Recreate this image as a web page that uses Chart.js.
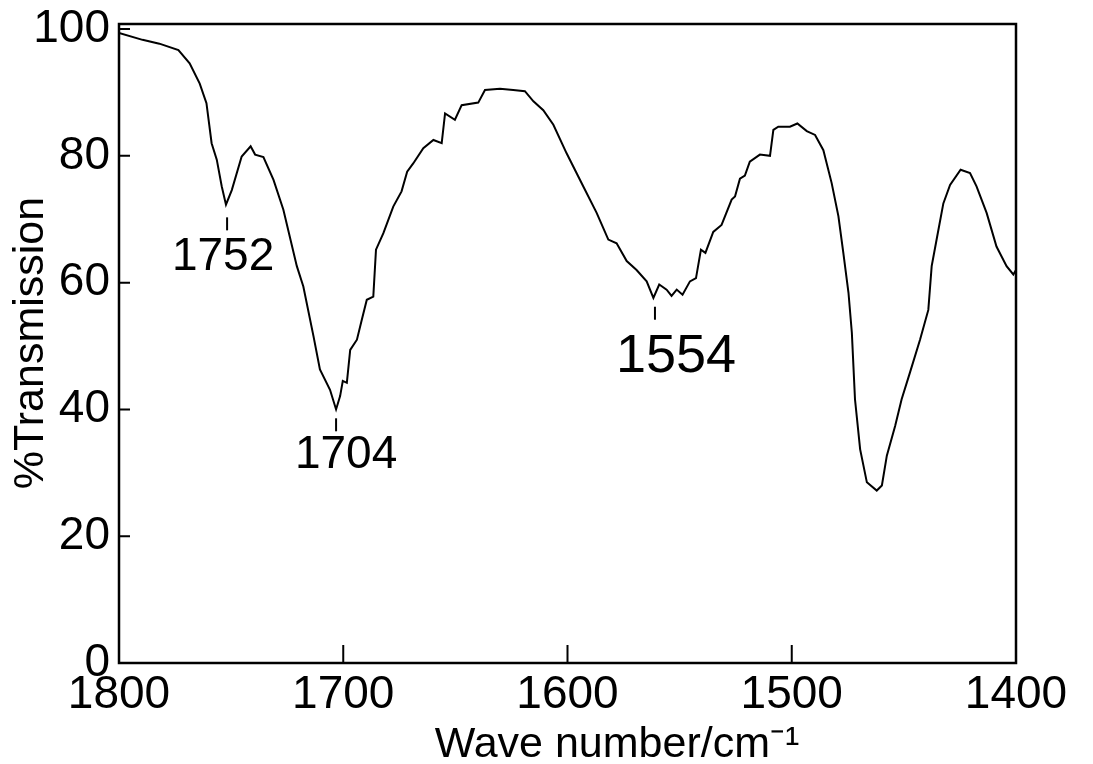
<!DOCTYPE html>
<html>
<head>
<meta charset="utf-8">
<script src="https://cdn.jsdelivr.net/npm/chart.js@4.4.1/dist/chart.umd.min.js"></script>
<style>
  html, body { margin: 0; padding: 0; background: #fff; }
  #wrap { width: 1093px; height: 764px; }
</style>
</head>
<body>
<div id="wrap"><canvas id="irChart"></canvas></div>
<script>
// IR spectrum (wave number, % transmission)
const waveNumbers = [
  1800, 1789.5, 1782, 1773.5, 1768.5, 1764, 1761, 1758.7, 1756.4, 1754.2,
  1752.3, 1749.7, 1745.3, 1741.3, 1739.3, 1735.6, 1731.1, 1726.7, 1720.7, 1717.8,
  1713.3, 1710.4, 1705.9, 1703.2, 1701.4, 1700.2, 1698.4, 1696.9, 1693.9, 1691.7,
  1689.5, 1686.6, 1685.4, 1682.1, 1677.7, 1674, 1671.5, 1668.8, 1664.3, 1659.8,
  1656.1, 1654.6, 1650.2, 1647.2, 1639.8, 1636.8, 1630.1, 1624.2, 1619, 1615.2,
  1610.8, 1606.3, 1600.4, 1593, 1587, 1581.8, 1578.1, 1573.6, 1569.2, 1564.7,
  1561.7, 1559.1, 1555.8, 1553.6, 1551.3, 1548.7, 1545.4, 1542.7, 1540.5, 1538.5,
  1535, 1531.3, 1526.8, 1525.3, 1523.1, 1520.9, 1518.7, 1514.2, 1509.7, 1508.2,
  1506, 1500.8, 1497.5, 1493.3, 1489.6, 1485.9, 1482.2, 1479.2, 1477, 1474.7,
  1473.2, 1471.8, 1469.5, 1466.5, 1462.1, 1459.8, 1457.6, 1453.9, 1451, 1447.3,
  1442.8, 1439.1, 1437.6, 1435.4, 1432.4, 1429.4, 1424.7, 1420.5, 1417.6, 1413.1,
  1408.7, 1404.2, 1401.2, 1400
];
const transmission = [
  99.4, 98.3, 97.7, 96.7, 94.6, 91.4, 88.3, 82.0, 79.4, 75.2,
  72.3, 74.6, 79.9, 81.5, 80.2, 79.8, 76.2, 71.5, 62.6, 59.4,
  51.6, 46.3, 43.1, 40.0, 42.1, 44.5, 44.2, 49.4, 51.0, 54.2,
  57.3, 57.8, 65.2, 67.8, 72.0, 74.4, 77.5, 78.8, 81.2, 82.5,
  82.0, 86.7, 85.7, 88.0, 88.4, 90.4, 90.6, 90.4, 90.2, 88.6,
  87.2, 84.9, 80.4, 75.2, 71.0, 66.8, 66.2, 63.4, 62.0, 60.2,
  57.6, 59.7, 58.9, 57.9, 58.9, 58.1, 60.2, 60.7, 65.2, 64.7,
  68.0, 69.1, 73.1, 73.6, 76.4, 76.9, 79.1, 80.2, 80.0, 84.1,
  84.6, 84.6, 85.1, 83.9, 83.3, 80.9, 75.7, 70.5, 64.7, 58.4,
  52.1, 41.6, 33.7, 28.5, 27.2, 28.0, 32.7, 37.4, 41.6, 45.8,
  51.0, 55.7, 62.6, 66.8, 72.5, 75.4, 77.8, 77.3, 75.2, 71.0,
  65.7, 62.6, 61.3, 62.0
];

const xTickValues = [1800, 1700, 1600, 1500, 1400];
const yTickValues = [0, 20, 40, 60, 80, 100];

// peak labels: text, wave number of the marker, % transmission at marker top
const peakLabels = ['1752', '1704', '1554'];
const peakWn = [1751.8, 1703.2, 1561.0];
const peakT = [70.3, 38.6, 56.2];

const xTitle = 'Wave number/cm\u207B\u00B9';
const yTitle = '%Transmission';

const FONT = '"Liberation Sans", Arial, sans-serif';

// frame, inward tick marks, peak notes, axis titles
const framePlugin = {
  id: 'framePlugin',
  afterDraw(chart) {
    const { ctx, chartArea: a, scales } = chart;
    const x = scales.x, y = scales.y;
    ctx.save();
    ctx.strokeStyle = '#000';
    ctx.lineWidth = 2.5;
    ctx.strokeRect(a.left, a.top, a.right - a.left, a.bottom - a.top);

    ctx.lineWidth = 2;
    ctx.beginPath();
    yTickValues.forEach(v => {
      const py = y.getPixelForValue(v);
      ctx.moveTo(a.left, py);
      ctx.lineTo(a.left + 11, py);
    });
    xTickValues.slice(1, -1).forEach(v => {
      const px = x.getPixelForValue(v);
      ctx.moveTo(px, a.bottom);
      ctx.lineTo(px, a.bottom - 18);
    });
    ctx.stroke();

    // peak markers and labels
    const textOffsets = [[-4, 40], [10, 37], [21, 50]];
    const fontSizes = [46, 46, 54];
    ctx.fillStyle = '#000';
    ctx.textAlign = 'center';
    ctx.textBaseline = 'middle';
    peakLabels.forEach((lbl, i) => {
      const px = x.getPixelForValue(peakWn[i]);
      const py = y.getPixelForValue(peakT[i]);
      ctx.lineWidth = 2;
      ctx.beginPath();
      ctx.moveTo(px, py);
      ctx.lineTo(px, py + 13);
      ctx.stroke();
      ctx.font = fontSizes[i] + 'px ' + FONT;
      ctx.fillText(lbl, px + textOffsets[i][0], py + textOffsets[i][1]);
    });

    // axis titles
    ctx.font = '43px ' + FONT;
    ctx.textBaseline = 'alphabetic';
    ctx.fillText(xTitle, 617, 757);
    ctx.translate(43, 343);
    ctx.rotate(-Math.PI / 2);
    ctx.fillText(yTitle, 0, 0);
    ctx.restore();
  }
};

const ctx = document.getElementById('irChart').getContext('2d');
new Chart(ctx, {
  type: 'line',
  data: {
    datasets: [{
      data: waveNumbers.map((w, i) => ({ x: w, y: transmission[i] })),
      borderColor: '#000',
      borderWidth: 2,
      pointRadius: 0,
      tension: 0,
      fill: false
    }]
  },
  options: {
    responsive: true,
    maintainAspectRatio: false,
    animation: false,
    layout: { padding: { top: 24, right: 77, left: 0, bottom: 0 } },
    plugins: {
      legend: { display: false },
      tooltip: { enabled: false }
    },
    scales: {
      x: {
        type: 'linear',
        reverse: true,
        min: 1400,
        max: 1800,
        afterBuildTicks: s => { s.ticks = xTickValues.map(v => ({ value: v })); },
        afterFit: s => { s.height = 101; },
        grid: { display: false, drawTicks: false },
        border: { display: false },
        ticks: {
          color: '#000',
          padding: 5,
          maxRotation: 0,
          callback: v => String(v),
          font: { family: FONT, size: 46 }
        }
      },
      y: {
        min: 0,
        max: 100.8,
        afterBuildTicks: s => { s.ticks = yTickValues.map(v => ({ value: v })); },
        afterFit: s => { s.width = 119; s.paddingTop = 0; s.paddingBottom = 0; },
        grid: { display: false, drawTicks: false },
        border: { display: false },
        ticks: {
          color: '#000',
          padding: 9,
          font: { family: FONT, size: 46 }
        }
      }
    }
  },
  plugins: [framePlugin]
});
</script>
</body>
</html>
